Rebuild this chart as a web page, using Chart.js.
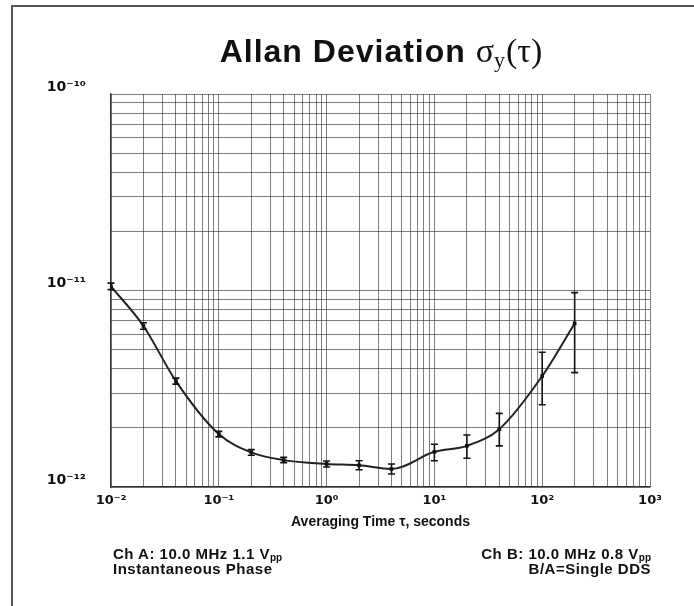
<!DOCTYPE html>
<html>
<head>
<meta charset="utf-8">
<script src="https://cdn.jsdelivr.net/npm/chart.js@4"></script>
<style>
  html, body { margin: 0; padding: 0; background: #fff; }
  #wrap { position: relative; width: 694px; height: 606px; overflow: hidden; font-family: "Liberation Sans", Arial, sans-serif; }
  #frame { position: absolute; left: 11px; top: 5px; width: 700px; height: 620px; border-left: 2px solid #555; border-top: 2px solid #555; }
  canvas { position: absolute; left: 0; top: 0; }
  #title { position: absolute; left: 381px; top: 35px; transform: translateX(-50%); white-space: nowrap;
           font-size: 32px; line-height: 32px; font-weight: bold; letter-spacing: 1px; color: #111; }
  #title .sym { font-family: "Liberation Serif", "DejaVu Serif", serif; font-weight: normal; letter-spacing: 0; font-size: 34px; }
  #title sub { font-family: "Liberation Serif", serif; font-weight: normal; font-size: 22px; vertical-align: -5px; line-height: 0; }
  .note { position: absolute; font-size: 15px; line-height: 15px; font-weight: bold; letter-spacing: 0.5px; color: #111; white-space: nowrap; }
  .note sub { font-size: 10px; vertical-align: -2px; line-height: 0; letter-spacing: 0; }
  #noteA { left: 113px; top: 546px; text-align: left; }
  #noteB { right: 43px; top: 546px; text-align: right; }
</style>
</head>
<body>
<div id="wrap">
  <canvas id="c" width="694" height="606"></canvas>
  <div id="frame"></div>
  <div id="title">Allan Deviation <span class="sym">σ</span><sub>y</sub><span class="sym">(τ)</span></div>
  <div class="note" id="noteA">Ch A: 10.0 MHz 1.1 V<sub>pp</sub><br>Instantaneous Phase</div>
  <div class="note" id="noteB">Ch B: 10.0 MHz 0.8 V<sub>pp</sub><br>B/A=Single DDS</div>
</div>
<script>
// ---- Data ----
const tau     = [0.01, 0.02, 0.04, 0.1, 0.2, 0.4, 1, 2, 4, 10, 20, 40, 100, 200];
const adev    = [1.05e-11, 6.6e-12, 3.46e-12, 1.86e-12, 1.50e-12, 1.37e-12, 1.31e-12, 1.29e-12, 1.235e-12, 1.51e-12, 1.62e-12, 1.97e-12, 3.67e-12, 6.8e-12];
const errLow  = [1.01e-11, 6.35e-12, 3.34e-12, 1.80e-12, 1.45e-12, 1.33e-12, 1.265e-12, 1.225e-12, 1.165e-12, 1.36e-12, 1.40e-12, 1.62e-12, 2.62e-12, 3.82e-12];
const errHigh = [1.09e-11, 6.85e-12, 3.58e-12, 1.92e-12, 1.55e-12, 1.415e-12, 1.355e-12, 1.36e-12, 1.31e-12, 1.65e-12, 1.84e-12, 2.37e-12, 4.85e-12, 9.75e-12];
const xDecades = [-2, -1, 0, 1, 2, 3];
const yDecades = [-12, -11, -10];
const xTitle = "Averaging Time τ, seconds";

const SUP = {"-": "⁻", "0": "⁰", "1": "¹", "2": "²", "3": "³", "4": "⁴", "5": "⁵", "6": "⁶", "7": "⁷", "8": "⁸", "9": "⁹"};
function powLabel(v) {
  const e = Math.log10(v);
  const r = Math.round(e);
  if (Math.abs(e - r) > 1e-6) return "";
  return "10" + String(r).split("").map(ch => SUP[ch]).join("");
}
function logTicks(decades) {
  const out = [];
  for (let i = 0; i < decades.length - 1; i++) {
    for (let m = 1; m <= 9; m++) out.push({ value: parseFloat((m * Math.pow(10, decades[i])).toPrecision(6)) });
  }
  out.push({ value: Math.pow(10, decades[decades.length - 1]) });
  return out;
}

const points = tau.map((t, i) => ({ x: t, y: adev[i] }));

const errorBars = {
  id: "errorBars",
  afterDatasetsDraw(chart) {
    const xs = chart.scales.x, ys = chart.scales.y, ctx = chart.ctx;
    ctx.save();
    ctx.strokeStyle = "#111";
    ctx.lineWidth = 1.6;
    tau.forEach((t, i) => {
      const px = xs.getPixelForValue(t);
      const y1 = ys.getPixelForValue(errLow[i]);
      const y2 = ys.getPixelForValue(errHigh[i]);
      ctx.beginPath();
      ctx.moveTo(px, y1); ctx.lineTo(px, y2);
      ctx.moveTo(px - 3.5, y1); ctx.lineTo(px + 3.5, y1);
      ctx.moveTo(px - 3.5, y2); ctx.lineTo(px + 3.5, y2);
      ctx.stroke();
    });
    ctx.restore();
  }
};

const tickFont = "'DejaVu Sans', 'Liberation Sans', sans-serif";

new Chart(document.getElementById("c"), {
  type: "line",
  data: {
    datasets: [{
      data: points,
      borderColor: "#222",
      backgroundColor: "#111",
      borderWidth: 2,
      pointStyle: "rect",
      pointRadius: 2.6,
      pointBorderWidth: 0,
      cubicInterpolationMode: "monotone",
      fill: false
    }]
  },
  options: {
    responsive: false,
    animation: false,
    devicePixelRatio: 1,
    layout: { padding: { left: 0, right: 44, top: 94, bottom: 75 } },
    plugins: { legend: { display: false }, tooltip: { enabled: false }, title: { display: false } },
    scales: {
      x: {
        type: "logarithmic",
        min: Math.pow(10, xDecades[0]),
        max: Math.pow(10, xDecades[xDecades.length - 1]),
        afterBuildTicks: s => { s.ticks = logTicks(xDecades); },
        afterFit: s => { s.height = 44; },
        grid: { color: "rgba(40,40,40,0.6)", lineWidth: 1, drawTicks: false },
        border: { color: "#333", width: 1.2 },
        ticks: {
          autoSkip: false, maxRotation: 0, padding: 6, color: "#111",
          font: { family: tickFont, size: 13, weight: "bold" },
          callback: v => powLabel(v)
        },
        title: {
          display: true, text: xTitle, color: "#111", padding: { top: 0, bottom: 0 },
          font: { family: "'Liberation Sans', Arial, sans-serif", size: 14, weight: "bold" }
        }
      },
      y: {
        type: "logarithmic",
        min: Math.pow(10, yDecades[0]),
        max: Math.pow(10, yDecades[yDecades.length - 1]),
        afterBuildTicks: s => { s.ticks = logTicks(yDecades); },
        afterFit: s => { s.width = 111; },
        grid: { color: "rgba(40,40,40,0.6)", lineWidth: 1, drawTicks: false },
        border: { color: "#333", width: 1.2 },
        ticks: {
          autoSkip: false, padding: 25, labelOffset: -7, color: "#111",
          font: { family: tickFont, size: 14, weight: "bold" },
          callback: v => powLabel(v)
        }
      }
    }
  },
  plugins: [errorBars]
});
</script>
</body>
</html>
